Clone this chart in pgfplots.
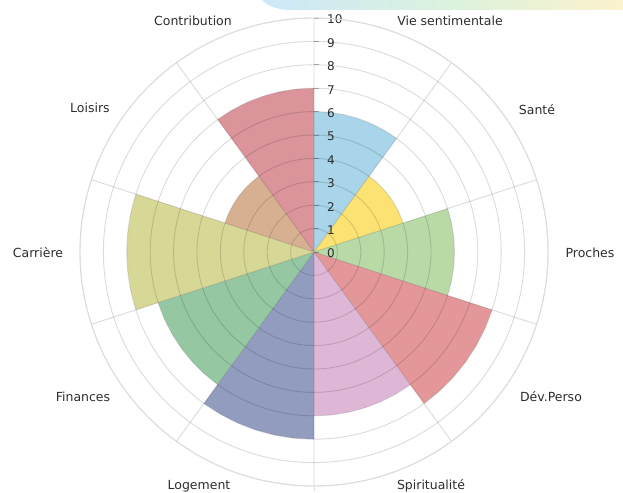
\documentclass[border=0pt]{standalone}
\usepackage{pgfplots}
\pgfplotsset{compat=1.18}
\usepgfplotslibrary{polar}
\usepackage{fontspec}
\setmainfont{DejaVu Sans}
\definecolor{cVS}{RGB}{168,213,234}
\definecolor{cSA}{RGB}{251,226,115}
\definecolor{cPR}{RGB}{185,217,167}
\definecolor{cDP}{RGB}{227,151,153}
\definecolor{cSP}{RGB}{222,183,215}
\definecolor{cLO}{RGB}{146,156,190}
\definecolor{cFI}{RGB}{149,199,163}
\definecolor{cCA}{RGB}{215,216,150}
\definecolor{cLS}{RGB}{215,176,146}
\definecolor{cCO}{RGB}{218,148,154}
\definecolor{txt}{RGB}{45,45,45}
\definecolor{gridc}{RGB}{220,220,220}
\begin{document}
\begin{tikzpicture}
\path[use as bounding box] (0pt,0pt) rectangle (623pt,492pt);
% faint banner at the top
\shade[left color={rgb,255:red,205;green,232;blue,250}, right color={rgb,255:red,252;green,242;blue,205}, middle color={rgb,255:red,218;green,242;blue,222}]
  (262pt,492pt) -- (623pt,492pt) -- (623pt,482pt) -- (285pt,482pt) .. controls (272pt,484pt) and (265pt,488pt) .. (262pt,492pt) -- cycle;
\begin{polaraxis}[
  at={(314pt,240pt)}, anchor=center,
  scale only axis, width=468pt, height=468pt,
  xmin=0, xmax=360, ymin=0, ymax=10,
  xtick={18,54,90,126,162,198,234,270,306,342},
  ytick={1,2,3,4,5,6,7,8,9,10},
  xticklabels={}, yticklabels={},
  major tick length=0pt,
  grid=major,
  grid style={black, opacity=0.14, line width=0.9pt},
  separate axis lines,
  x axis line style={gridc, line width=0.9pt},
  y axis line style={draw=none},
  axis on top,
  clip=false,
]
\addplot[fill=cVS, draw=none] coordinates {(0,0) (90,6) (84,6) (78,6) (72,6) (66,6) (60,6) (54,6)} -- cycle;
\addplot[fill=cSA, draw=none] coordinates {(0,0) (54,4) (48,4) (42,4) (36,4) (30,4) (24,4) (18,4)} -- cycle;
\addplot[fill=cPR, draw=none] coordinates {(0,0) (18,6) (12,6) (6,6) (0,6) (-6,6) (-12,6) (-18,6)} -- cycle;
\addplot[fill=cDP, draw=none] coordinates {(0,0) (-18,8) (-24,8) (-30,8) (-36,8) (-42,8) (-48,8) (-54,8)} -- cycle;
\addplot[fill=cSP, draw=none] coordinates {(0,0) (-54,7) (-60,7) (-66,7) (-72,7) (-78,7) (-84,7) (-90,7)} -- cycle;
\addplot[fill=cLO, draw=none] coordinates {(0,0) (-90,8) (-96,8) (-102,8) (-108,8) (-114,8) (-120,8) (-126,8)} -- cycle;
\addplot[fill=cFI, draw=none] coordinates {(0,0) (-126,7) (-132,7) (-138,7) (-144,7) (-150,7) (-156,7) (-162,7)} -- cycle;
\addplot[fill=cCA, draw=none] coordinates {(0,0) (-162,8) (-168,8) (-174,8) (-180,8) (-186,8) (-192,8) (-198,8)} -- cycle;
\addplot[fill=cLS, draw=none] coordinates {(0,0) (162,4) (156,4) (150,4) (144,4) (138,4) (132,4) (126,4)} -- cycle;
\addplot[fill=cCO, draw=none] coordinates {(0,0) (126,7) (120,7) (114,7) (108,7) (102,7) (96,7) (90,7)} -- cycle;
\pgfplotsinvokeforeach{0,1,2,3,4,5,6,7,8,9,10}{
  \draw[black, opacity=0.3, line width=0.8pt] (axis cs:90,#1) -- ++(5pt,0pt);
  \node[anchor=west, text=txt, font=\fontsize{12}{14}\selectfont, inner sep=0pt] at ([xshift=13pt,yshift=-1.5pt]axis cs:90,#1) {#1};
}
\end{polaraxis}
\draw[gridc, line width=0.9pt] (314pt,6pt) -- (314pt,1pt);
\begin{scope}[every node/.style={text=txt, font=\fontsize{12.5}{15}\selectfont, inner sep=0pt}]
\node at (193pt,471pt) {Contribution};
\node at (450pt,471pt) {Vie sentimentale};
\node at (537pt,382pt) {Santé};
\node at (590pt,239pt) {Proches};
\node at (551pt,95pt) {Dév.Perso};
\node at (431pt,6pt) {Spiritualité};
\node at (199pt,6pt) {Logement};
\node at (83pt,95pt) {Finances};
\node at (38pt,239pt) {Carrière};
\node at (90pt,384pt) {Loisirs};
\end{scope}
\end{tikzpicture}
\end{document}
